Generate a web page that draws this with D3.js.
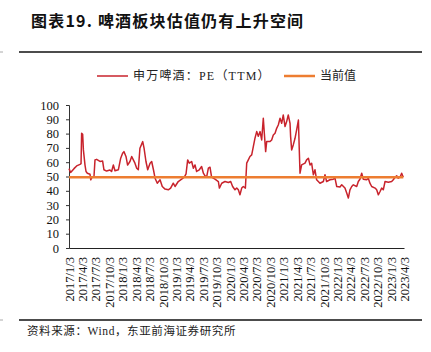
<!DOCTYPE html>
<html>
<head>
<meta charset="utf-8">
<script src="https://cdn.jsdelivr.net/npm/d3@7"></script>
<style>
  body { margin: 0; background: #fff; }
</style>
</head>
<body>
<script>
// data
const dates = [
  "2017-01-03","2017-01-14","2017-02-06","2017-02-24","2017-03-19","2017-03-26","2017-03-30","2017-04-06",
  "2017-04-11","2017-04-22","2017-04-29","2017-05-08","2017-05-26","2017-05-31","2017-06-09","2017-06-22",
  "2017-06-29","2017-07-10","2017-08-02","2017-08-20","2017-08-29","2017-09-16","2017-10-09","2017-10-20",
  "2017-11-01","2017-11-12","2017-12-05","2017-12-21","2018-01-03","2018-01-12","2018-01-26","2018-02-06",
  "2018-02-22","2018-03-06","2018-03-17","2018-03-28","2018-04-09","2018-04-20","2018-05-01","2018-05-20",
  "2018-05-29","2018-06-11","2018-06-23","2018-07-09","2018-07-20","2018-08-01","2018-08-12","2018-08-27",
  "2018-09-15","2018-09-30","2018-10-19","2018-11-10","2018-11-26","2018-12-14","2018-12-26","2019-01-17",
  "2019-02-09","2019-02-27","2019-03-11","2019-03-22","2019-04-02","2019-04-18","2019-04-30","2019-05-11",
  "2019-05-22","2019-06-09","2019-06-25","2019-07-07","2019-07-18","2019-07-29","2019-08-10","2019-08-21",
  "2019-09-01","2019-09-24","2019-10-17","2019-10-24","2019-11-09","2019-12-01","2019-12-24","2020-01-09",
  "2020-01-22","2020-02-07","2020-02-19","2020-03-01","2020-03-12","2020-03-24","2020-04-04","2020-04-18",
  "2020-04-27","2020-05-08","2020-05-19","2020-05-31","2020-06-11","2020-06-22","2020-07-04","2020-07-15",
  "2020-07-27","2020-08-07","2020-08-18","2020-08-25","2020-09-03","2020-09-10","2020-10-03","2020-10-14",
  "2020-10-25","2020-11-06","2020-11-17","2020-11-28","2020-12-10","2020-12-21","2021-01-01","2021-01-13",
  "2021-01-24","2021-02-04","2021-02-16","2021-02-20","2021-02-27","2021-03-10","2021-03-22","2021-04-02",
  "2021-04-14","2021-04-20","2021-04-25","2021-05-06","2021-05-29","2021-06-09","2021-06-21","2021-07-02",
  "2021-07-13","2021-07-25","2021-08-05","2021-08-16","2021-09-08","2021-10-01","2021-10-12","2021-10-23",
  "2021-11-15","2021-12-08","2021-12-19","2021-12-31","2022-01-22","2022-02-03","2022-02-25","2022-03-09",
  "2022-03-20","2022-03-31","2022-04-12","2022-04-23","2022-05-16","2022-05-27","2022-06-07","2022-06-19",
  "2022-06-30","2022-07-23","2022-08-03","2022-08-14","2022-08-26","2022-09-18","2022-09-29","2022-10-10",
  "2022-10-22","2022-11-02","2022-11-13","2022-11-25","2022-12-17","2023-01-09","2023-01-20","2023-02-01",
  "2023-02-12","2023-02-23","2023-03-07","2023-03-18","2023-03-29"
];
const pe = [
  55.5,52.8,55.5,57.4,58.5,59.0,80.2,79.5,
  68.6,58.0,53.5,52.3,51.6,47.7,49.5,49.8,
  61.6,62.0,60.5,60.8,54.7,53.8,54.5,53.5,
  58.0,54.0,54.7,62.8,66.3,67.4,64.0,58.0,
  60.5,64.0,61.6,59.3,55.8,54.7,69.8,74.4,
  69.8,60.5,54.7,59.3,60.5,54.7,48.8,45.3,
  47.7,43.0,41.2,40.7,41.9,45.3,43.0,46.5,
  48.1,49.5,51.9,61.6,59.3,60.5,55.8,58.1,
  53.5,54.7,57.0,52.3,50.5,49.5,55.8,56.5,
  49.5,48.1,46.5,41.9,45.3,46.5,45.8,46.5,
  43.0,40.7,42.0,40.7,37.2,41.9,43.0,41.9,
  59.3,61.6,64.0,65.1,70.9,76.7,81.4,78.1,
  81.4,75.6,90.7,80.2,67.4,74.4,74.4,75.6,
  79.0,80.2,83.7,86.0,90.7,87.2,93.0,84.9,
  88.4,93.0,87.2,77.9,68.6,72.1,76.7,82.6,
  89.5,68.6,52.3,58.1,59.3,61.6,62.8,58.1,
  59.3,51.2,54.7,47.7,45.3,46.5,51.2,46.5,
  47.7,48.1,48.8,43.0,42.6,44.2,41.9,38.4,
  34.9,40.7,43.0,44.2,43.0,46.5,48.1,52.3,
  48.1,47.7,48.8,45.3,43.0,41.9,40.7,37.2,
  39.5,41.9,40.7,46.5,46.0,46.5,47.7,49.5,
  50.5,48.8,49.5,52.3,49.5
];
const currentValue = 49.5;
const tickLabels = [
  "2017/1/3","2017/4/3","2017/7/3","2017/10/3","2018/1/3","2018/4/3","2018/7/3","2018/10/3",
  "2019/1/3","2019/4/3","2019/7/3","2019/10/3","2020/1/3","2020/4/3","2020/7/3","2020/10/3",
  "2021/1/3","2021/4/3","2021/7/3","2021/10/3","2022/1/3","2022/4/3","2022/7/3","2022/10/3",
  "2023/1/3","2023/4/3"
];
const yTicks = [0, 10, 20, 30, 40, 50, 60, 70, 80, 90, 100];
const seriesNames = ["申万啤酒：PE（TTM）", "当前值"];
const colors = ["#c8232c", "#ed7d31"];

const W = 431, H = 352;
const serif = "'Liberation Serif','Times New Roman','Noto Sans CJK SC',serif";
const cjk = "'Noto Sans CJK SC',sans-serif";

const svg = d3.select("body").append("svg")
  .attr("width", W)
  .attr("height", H);

// title + rules
svg.append("text")
  .attr("x", 31).attr("y", 27)
  .style("font-family", cjk)
  .style("font-weight", "bold")
  .style("font-size", "16px")
  .style("letter-spacing", "1.2px")
  .attr("fill", "#111")
  .text("图表19. 啤酒板块估值仍有上升空间");

svg.append("line").attr("x1", 19).attr("x2", 422).attr("y1", 52).attr("y2", 52)
  .attr("stroke", "#111").attr("stroke-width", 1.6);
svg.append("line").attr("x1", 19).attr("x2", 422).attr("y1", 320).attr("y2", 320)
  .attr("stroke", "#111").attr("stroke-width", 1.6);
svg.append("line").attr("x1", 0).attr("x2", 3).attr("y1", 52).attr("y2", 52).attr("stroke", "#aaa");
svg.append("line").attr("x1", 0).attr("x2", 3).attr("y1", 320).attr("y2", 320).attr("stroke", "#aaa");

svg.append("text")
  .attr("x", 27).attr("y", 335)
  .style("font-family", serif)
  .style("font-size", "11.5px")
  .style("letter-spacing", "0.6px")
  .attr("fill", "#222")
  .text("资料来源：Wind，东亚前海证券研究所");

// scales
const parseDate = d3.timeParse("%Y-%m-%d");
const parseTick = d3.timeParse("%Y/%m/%d");
const tickDates = tickLabels.map(parseTick);
const data = dates.map((d, i) => ({date: parseDate(d), value: pe[i]}));

const x = d3.scaleTime()
  .domain([tickDates[0], tickDates[tickDates.length - 1]])
  .range([69, 404]);
const y = d3.scaleLinear()
  .domain([0, 100])
  .range([248, 105]);

// y axis
const yAxis = svg.append("g")
  .attr("transform", "translate(69,0)")
  .call(d3.axisLeft(y).tickValues(yTicks).tickSize(3).tickPadding(7));
yAxis.select(".domain").attr("stroke", "#333");
yAxis.selectAll(".tick line").attr("stroke", "#333");
yAxis.selectAll("text")
  .style("font-family", serif)
  .style("font-size", "12.5px")
  .attr("fill", "#111");

// x axis
const xAxis = svg.append("g")
  .attr("transform", "translate(0,248)")
  .call(d3.axisBottom(x).tickValues(tickDates).tickSize(0)
    .tickFormat((d, i) => tickLabels[i]));
xAxis.select(".domain").attr("stroke", "#222").attr("stroke-width", 1.2);
xAxis.selectAll("text")
  .style("font-family", serif)
  .style("font-size", "12.5px")
  .attr("fill", "#111")
  .attr("text-anchor", "end")
  .attr("transform", "rotate(-90)")
  .attr("x", -9)
  .attr("y", 0)
  .attr("dy", "0.35em");

// lines
const line = d3.line()
  .x(d => x(d.date))
  .y(d => y(d.value));

svg.append("path")
  .datum(data)
  .attr("fill", "none")
  .attr("stroke", colors[0])
  .attr("stroke-width", 1.5)
  .attr("stroke-linejoin", "round")
  .attr("d", line);

svg.append("path")
  .datum([data[0].date, data[data.length - 1].date])
  .attr("fill", "none")
  .attr("stroke", colors[1])
  .attr("stroke-width", 2.5)
  .attr("d", d3.line().x(d => x(d)).y(() => y(currentValue)));

// legend
const legendX = [97, 284];
const legend = svg.selectAll(".legend")
  .data(seriesNames)
  .join("g")
  .attr("class", "legend")
  .attr("transform", (d, i) => `translate(${legendX[i]},76)`);
legend.append("line")
  .attr("x1", 0).attr("x2", 31)
  .attr("stroke", (d, i) => colors[i])
  .attr("stroke-width", (d, i) => i ? 2.5 : 1.5);
legend.append("text")
  .attr("x", 36).attr("dy", "0.35em")
  .style("font-family", serif)
  .style("font-size", "12px")
  .style("letter-spacing", (d, i) => i ? "0px" : "1.2px")
  .attr("fill", "#222")
  .text(d => d);
</script>
</body>
</html>
